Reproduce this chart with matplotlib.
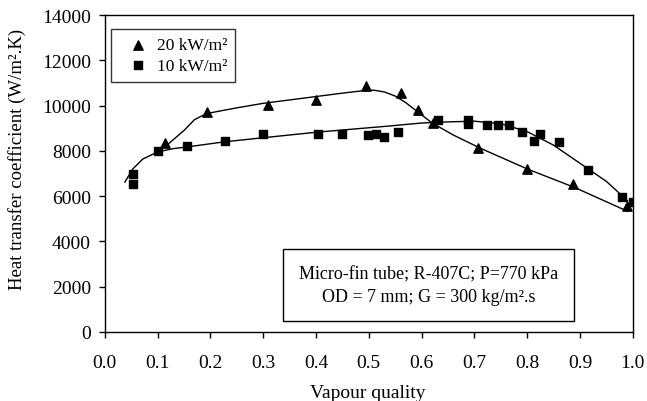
import matplotlib
matplotlib.use('Agg')
import matplotlib.pyplot as plt
from matplotlib import rcParams

rcParams['font.family'] = 'serif'
rcParams['font.serif'] = ['Liberation Serif', 'DejaVu Serif']
rcParams['font.size'] = 14

# measured points, 20 kW/m2
q_20 = [0.114, 0.193, 0.309, 0.400, 0.494, 0.561, 0.593, 0.621, 0.707, 0.800, 0.886, 0.989]
h_20 = [8350, 9720, 10030, 10250, 10870, 10560, 9800, 9230, 8130, 7200, 6540, 5570]

# measured points, 10 kW/m2
q_10 = [0.053, 0.053, 0.100, 0.155, 0.227, 0.300, 0.404, 0.450, 0.498, 0.513, 0.528,
        0.555, 0.631, 0.687, 0.687, 0.723, 0.744, 0.765, 0.790, 0.812, 0.824, 0.860,
        0.915, 0.980, 1.000]
h_10 = [6980, 6540, 8000, 8220, 8440, 8750, 8750, 8750, 8700, 8750, 8610,
        8830, 9360, 9360, 9190, 9140, 9140, 9140, 8830, 8440, 8750, 8390,
        7160, 5960, 5740]

# trend lines
fit_q_20 = [0.100, 0.120, 0.150, 0.170, 0.185, 0.200, 0.250, 0.300, 0.400, 0.450,
            0.490, 0.510, 0.530, 0.550, 0.570, 0.590, 0.620, 0.660, 0.710, 0.800,
            0.890, 0.990]
fit_h_20 = [7950, 8300, 8900, 9380, 9560, 9680, 9900, 10100, 10400, 10550,
            10660, 10680, 10600, 10420, 10130, 9770, 9230, 8700, 8130, 7200,
            6380, 5330]

fit_q_10 = [0.038, 0.053, 0.072, 0.100, 0.130, 0.155, 0.227, 0.300, 0.404, 0.500,
            0.540, 0.600, 0.650, 0.700, 0.750, 0.800, 0.850, 0.900, 0.950, 0.990]
fit_h_10 = [6620, 7200, 7640, 7950, 8100, 8170, 8400, 8580, 8830, 9020,
            9100, 9230, 9280, 9310, 9200, 8850, 8250, 7450, 6650, 5800]

x_ticks = [0.0, 0.1, 0.2, 0.3, 0.4, 0.5, 0.6, 0.7, 0.8, 0.9, 1.0]
y_ticks = [0, 2000, 4000, 6000, 8000, 10000, 12000, 14000]

fig = plt.figure(figsize=(6.47, 4.02), dpi=100)
ax = fig.add_axes([0.162, 0.172, 0.816, 0.788])

ax.plot(fit_q_20, fit_h_20, color='black', linewidth=1)
ax.plot(fit_q_10, fit_h_10, color='black', linewidth=1)
tri = ax.scatter(q_20, h_20, marker='^', s=45, color='black', zorder=3,
                 label='20 kW/m²')
sq = ax.scatter(q_10, h_10, marker='s', s=38, color='black', zorder=3,
                label='10 kW/m²')

ax.set_xlim(0, 1.0)
ax.set_ylim(0, 14000)
ax.set_xticks(x_ticks)
ax.set_xticklabels([f'{t:.1f}' for t in x_ticks])
ax.set_yticks(y_ticks)
ax.tick_params(direction='out', length=4, width=1, top=False, right=False)
ax.tick_params(axis='x', pad=12)
ax.tick_params(axis='y', pad=6)
for spine in ax.spines.values():
    spine.set_linewidth(1)

ax.set_xlabel('Vapour quality')
ax.xaxis.set_label_coords(0.498, -0.165)
ax.set_ylabel('Heat transfer coefficient (W/m².K)', fontsize=13.5)
ax.yaxis.set_label_coords(-0.150, 0.549)

leg = ax.legend(handles=[tri, sq], loc='upper left', bbox_to_anchor=(0.011, 0.955),
                borderaxespad=0, fancybox=False, frameon=True, handletextpad=0.0,
                borderpad=0.45, labelspacing=0.25, handlelength=2.2, fontsize=12.5)
leg.get_frame().set_edgecolor('black')
leg.get_frame().set_linewidth(1)

ax.text(0.613, 0.148, 'Micro-fin tube; R-407C; P=770 kPa\nOD = 7 mm; G = 300 kg/m².s',
        transform=ax.transAxes, ha='center', va='center', linespacing=1.4,
        fontsize=13,
        bbox=dict(boxstyle='square,pad=0.9', facecolor='white', edgecolor='black',
                  linewidth=1))

fig.savefig('out.png', dpi=100)
